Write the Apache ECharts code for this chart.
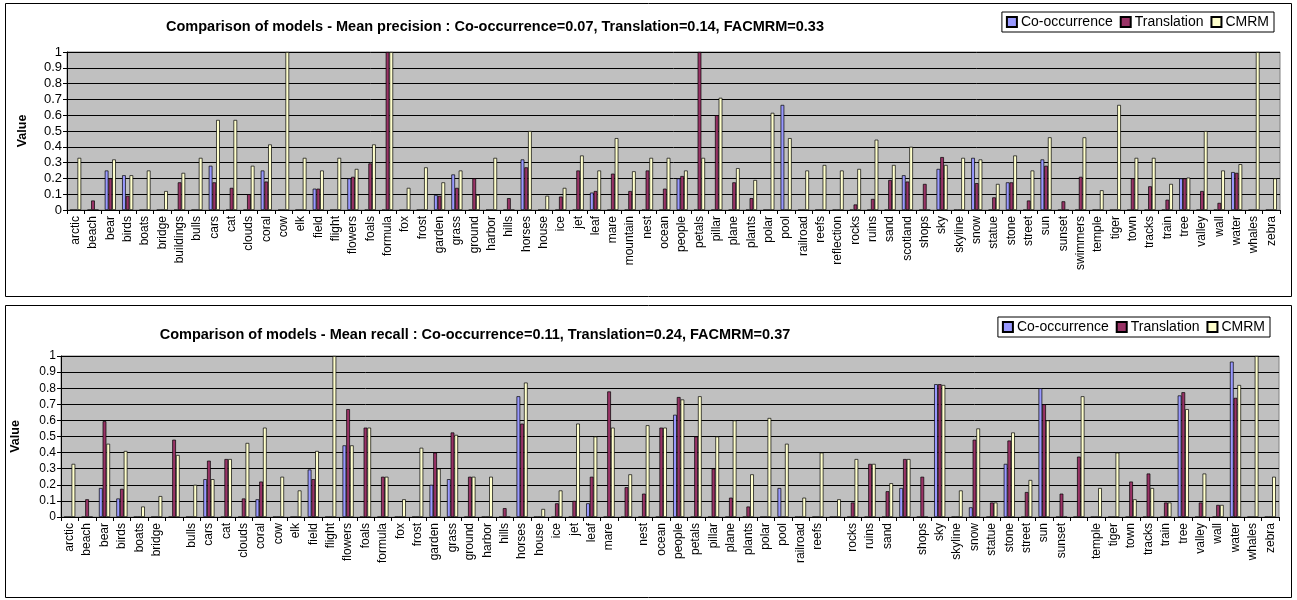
<!DOCTYPE html>
<html><head><meta charset="utf-8">
<script src="https://cdn.jsdelivr.net/npm/echarts@6/dist/echarts.min.js"></script>
<style>html,body{margin:0;padding:0;background:#fff}#c{width:1297px;height:600px}</style>
</head><body><div id="c"></div>
<script>
const categories = ["arctic","beach","bear","birds","boats","bridge","buildings","bulls","cars","cat","clouds","coral","cow","elk","field","flight","flowers","foals","formula","fox","frost","garden","grass","ground","harbor","hills","horses","house","ice","jet","leaf","mare","mountain","nest","ocean","people","petals","pillar","plane","plants","polar","pool","railroad","reefs","reflection","rocks","ruins","sand","scotland","shops","sky","skyline","snow","statue","stone","street","sun","sunset","swimmers","temple","tiger","town","tracks","train","tree","valley","wall","water","whales","zebra"];
const recallLabels = ["arctic","beach","bear","birds","boats","bridge","","bulls","cars","cat","clouds","coral","cow","elk","field","flight","flowers","foals","formula","fox","frost","garden","grass","ground","harbor","hills","horses","house","ice","jet","leaf","mare","","nest","ocean","people","petals","pillar","plane","plants","polar","pool","railroad","reefs","","rocks","ruins","sand","","shops","sky","skyline","snow","statue","stone","street","sun","sunset","","temple","tiger","town","tracks","train","tree","valley","wall","water","whales","zebra"];
const seriesNames = ["Co-occurrence","Translation","CMRM"];
const yTicks = [0,0.1,0.2,0.3,0.4,0.5,0.6,0.7,0.8,0.9,1];
const titlePrecision = "Comparison of models - Mean precision : Co-occurrence=0.07, Translation=0.14, FACMRM=0.33";
const titleRecall = "Comparison of models - Mean recall : Co-occurrence=0.11, Translation=0.24, FACMRM=0.37";

const precCo = [0,0,.25,.22,0,0,0,0,.28,0,0,.25,0,0,.135,0,.2,0,0,0,0,.095,.225,0,0,0,.32,0,0,0,.11,0,0,0,0,.2,0,0,0,0,0,.665,0,0,0,0,0,0,.22,0,.26,0,.33,0,.175,0,.32,0,0,0,0,0,0,0,.2,0,0,.24,0,0];
const precTr = [0,.06,.2,.09,0,0,.175,0,.175,.14,.1,.18,0,0,.135,0,.21,.295,1,0,0,.09,.14,.2,0,.075,.27,0,.085,.25,.12,.23,.12,.25,.135,.215,1,.6,.175,.075,0,0,0,0,0,.035,.07,.19,.18,.165,.335,0,.17,.08,.175,.06,.28,.055,.21,0,0,.2,.15,.065,.2,.12,.045,.235,0,0];
const precCm = [.33,0,.32,.22,.25,.12,.235,.33,.57,.57,.28,.415,1,.33,.25,.33,.26,.415,1,.14,.27,.175,.25,.095,.33,0,.5,.09,.14,.345,.25,.455,.245,.33,.33,.25,.33,.71,.265,.19,.615,.455,.25,.285,.25,.26,.445,.285,.4,0,.285,.33,.32,.165,.345,.25,.46,0,.46,.125,.665,.33,.33,.165,.205,.5,.25,.29,1,.2];

const recCo = [0,0,.18,.115,0,0,0,0,.235,0,0,.11,0,0,.295,0,.445,0,0,0,0,.2,.235,0,0,0,.75,0,0,0,.085,0,0,0,0,.635,0,0,0,0,0,.18,0,0,0,0,0,0,.18,0,.825,0,.06,0,.33,0,.8,0,0,0,0,0,0,0,.755,0,0,.965,0,0];
const recTr = [0,.11,.595,.175,0,0,.48,0,.35,.36,.115,.22,0,0,.235,0,.67,.555,.25,0,0,.4,.525,.25,0,.055,.58,0,.085,.1,.25,.78,.185,.145,.555,.745,.5,.3,.12,.065,0,0,0,0,0,.09,.33,.16,.36,.25,.825,0,.48,.09,.475,.155,.7,.145,.375,0,0,.22,.27,.09,.775,.09,.075,.74,0,0];
const recCm = [.33,0,.455,.41,.065,.13,.385,.2,.235,.36,.46,.555,.25,.165,.41,1,.445,.555,.25,.11,.43,.3,.51,.25,.25,0,.835,.05,.165,.58,.5,.555,.265,.57,.555,.73,.75,.5,.6,.265,.615,.455,.12,.4,.11,.36,.33,.21,.36,0,.82,.165,.55,.09,.525,.23,.6,0,.75,.18,.4,.11,.18,.09,.67,.27,.075,.82,1,.25];

const colors = ["#9999FF","#993366","#FFFFCC"];
const FONT = "Arial, 'Liberation Sans', sans-serif";

function xAxis(idx, labels){
  return {type:'category', gridIndex:idx, data:labels, boundaryGap:true,
    axisLine:{lineStyle:{color:'#000',width:1}},
    axisTick:{show:true, length:4, alignWithLabel:false, interval:0, lineStyle:{color:'#000'}},
    axisLabel:{interval:0, rotate:90, fontSize:12, color:'#000', fontFamily:FONT, margin:6}};
}
function yAxis(idx, fs){
  return {type:'value', gridIndex:idx, min:0, max:1, interval:0.1,
    name:'Value', nameLocation:'middle', nameGap: idx===0?38:39, nameRotate:90,
    nameTextStyle:{fontWeight:'bold', fontSize:12.5, color:'#000', fontFamily:FONT},
    axisLine:{show:true, lineStyle:{color:'#000'}},
    axisTick:{show:true, length:4, lineStyle:{color:'#000'}},
    splitLine:{show:true, lineStyle:{color:'#000', width:1}},
    axisLabel:{fontSize:fs, color:'#000', fontFamily:FONT, margin:5,
      formatter:function(v){return String(Math.round(v*10)/10);}}};
}
function bar(name, data, ai, ci){
  return {name:name, type:'bar', xAxisIndex:ai, yAxisIndex:ai, data:data,
    barGap:'0%', barCategoryGap:'36%', animation:false,
    itemStyle:{color:colors[ci], borderColor:'#000', borderWidth:0.7}};
}
function legend(top, right){
  return {top:top, right:right, orient:'horizontal', data:seriesNames, itemWidth:10, itemHeight:10, itemGap:7,
    icon:'rect', borderColor:'#000', borderWidth:1, padding:[3,5,3,4],
    textStyle:{fontSize:14, color:'#000', fontFamily:FONT, padding:[0,0,0,-1]}};
}

const chart = echarts.init(document.getElementById('c'), null, {renderer:'canvas'});
chart.setOption({
  backgroundColor:'#fff',
  animation:false,
  graphic:[
    {type:'rect', shape:{x:5.5,y:3.5,width:1286,height:293}, style:{fill:'none', stroke:'#000', lineWidth:1}},
    {type:'rect', shape:{x:5.5,y:305.5,width:1286,height:292}, style:{fill:'none', stroke:'#000', lineWidth:1}}
  ],
  title:[
    {text:titlePrecision, left:490, top:14, textAlign:'center', textStyle:{fontSize:14.5, fontWeight:'bold', color:'#000', fontFamily:FONT}},
    {text:titleRecall, left:470, top:322, textAlign:'center', textStyle:{fontSize:14.5, fontWeight:'bold', color:'#000', fontFamily:FONT}}
  ],
  legend:[legend(12, 23), legend(317, 27)],
  grid:[
    {left:67, top:52, width:1213, height:158, show:true, backgroundColor:'#C0C0C0', borderColor:'#808080', borderWidth:1},
    {left:61, top:356, width:1218, height:161, show:true, backgroundColor:'#C0C0C0', borderColor:'#808080', borderWidth:1}
  ],
  xAxis:[xAxis(0, categories), xAxis(1, recallLabels)],
  yAxis:[yAxis(0, 13), yAxis(1, 12)],
  series:[
    bar(seriesNames[0], precCo, 0, 0), bar(seriesNames[1], precTr, 0, 1), bar(seriesNames[2], precCm, 0, 2),
    bar(seriesNames[0], recCo, 1, 0), bar(seriesNames[1], recTr, 1, 1), bar(seriesNames[2], recCm, 1, 2)
  ]
});
</script></body></html>
